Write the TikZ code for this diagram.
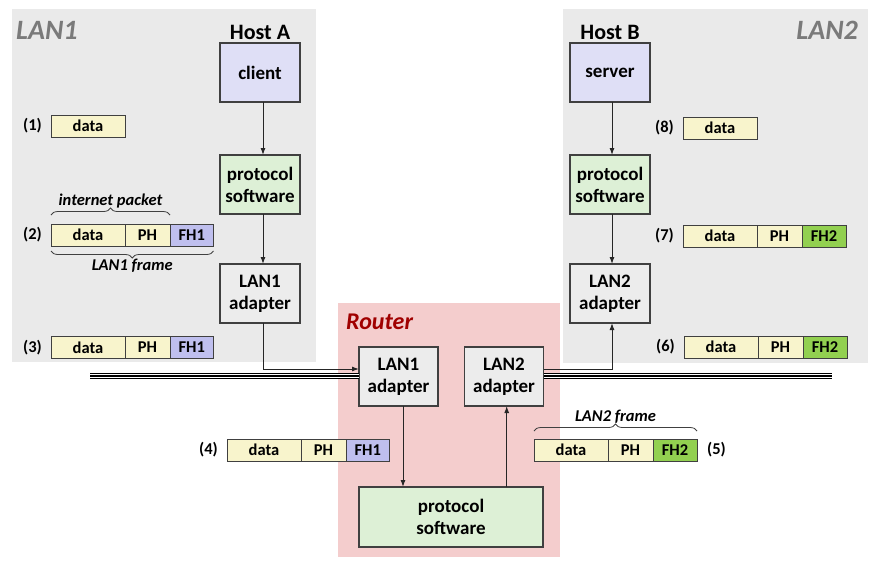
\documentclass[tikz,border=0pt]{standalone}
\usepackage{fontspec}
\setmainfont{Carlito}
\usetikzlibrary{positioning,arrows.meta,decorations.pathreplacing}

\definecolor{lanbg}{HTML}{EAEAEA}
\definecolor{routerbg}{HTML}{F4CDCD}
\definecolor{boxline}{HTML}{404040}
\definecolor{hostfill}{HTML}{DFDFF6}
\definecolor{protofill}{HTML}{DDF0D6}
\definecolor{adapterfill}{HTML}{ECECEC}
\definecolor{datafill}{HTML}{F8F4CC}
\definecolor{fhonefill}{HTML}{BFBFEE}
\definecolor{fhtwofill}{HTML}{92D050}
\definecolor{langray}{HTML}{7A7A7A}
\definecolor{routerred}{HTML}{A00000}

\newcommand{\boxfont}{\fontsize{19}{22}\selectfont\bfseries}
\newcommand{\pktfont}{\fontsize{16.5}{18}\selectfont\bfseries}

\begin{document}
\begin{tikzpicture}[x=1pt,y=-1pt,
    box/.style={draw=boxline,line width=1.1pt,inner sep=0pt,outer sep=0pt,
        minimum width=80pt,minimum height=59pt,align=center,font=\boxfont},
    host/.style={box,fill=hostfill},
    proto/.style={box,fill=protofill},
    adapter/.style={box,fill=adapterfill},
    cell/.style={draw=boxline,line width=1pt,inner sep=0pt,outer sep=0pt,
        minimum width=74pt,minimum height=22pt,font=\pktfont,fill=datafill},
    phcell/.style={cell,minimum width=45pt},
    fhone/.style={cell,minimum width=43.5pt,fill=fhonefill},
    fhtwo/.style={cell,minimum width=44pt,fill=fhtwofill},
    num/.style={inner sep=0pt,font=\pktfont},
    note/.style={inner sep=0pt,text=black,font=\pktfont\itshape},
    brace/.style={decorate,decoration={brace,amplitude=7pt},line width=0.8pt,draw=boxline},
    link/.style={line width=1pt,black!85,-{Latex[length=7pt,width=5pt]}},
    bus/.style={line width=6.7pt,black,postaction={draw,white,line width=4pt},
        postaction={draw,black,line width=1.3pt}}]

    \useasboundingbox (0,0) rectangle (890,587);

    \fill[lanbg] (12,9) rectangle (316,362);
    \fill[lanbg] (563,9) rectangle (868,363);
    \fill[routerbg] (338,303) rectangle (560,557);

    \node[anchor=base west,inner sep=0pt,text=langray,font=\fontsize{28}{30}\selectfont\bfseries\itshape] (lan1) at (16,39) {LAN1};
    \node[anchor=base east,inner sep=0pt,text=langray,font=\fontsize{28}{30}\selectfont\bfseries\itshape] (lan2) at (858,39) {LAN2};
    \node[anchor=base west,inner sep=0pt,text=routerred,font=\fontsize{24}{26}\selectfont\bfseries\itshape] (router) at (346,329) {Router};

    \node[host] (client) at (260,72.5) {client};
    \node[proto] (protoA) at (260,184.5) {protocol\\software};
    \node[adapter] (adA) at (260,293.5) {LAN1\\adapter};
    \node[inner sep=0pt,font=\fontsize{22}{24}\selectfont\bfseries,above=3pt of client] (hostA) {Host A};

    \node[host] (server) at (610,72.5) {server};
    \node[proto] (protoB) at (610,184.5) {protocol\\software};
    \node[adapter] (adB) at (610,293.5) {LAN2\\adapter};
    \node[inner sep=0pt,font=\fontsize{22}{24}\selectfont\bfseries,above=3pt of server] (hostB) {Host B};

    \node[adapter,minimum width=79pt] (adR1) at (398.5,376.5) {LAN1\\adapter};
    \node[adapter,minimum width=79pt] (adR2) at (504,376.5) {LAN2\\adapter};
    \node[proto,minimum width=184pt,minimum height=60pt] (protoR) at (451,517) {protocol\\software};

    \coordinate (busL) at (90,376);
    \coordinate (busR) at (832,376);
    \draw[bus] (busL) -- (busL -| adR1.west);
    \draw[bus] (adR2.east |- busR) -- (busR);

    \draw[link] ([xshift=3pt]client.south) -- ([xshift=3pt]protoA.north);
    \draw[link] ([xshift=3pt]protoA.south) -- ([xshift=3pt]adA.north);
    \draw[link] ([xshift=3pt]adA.south) |- ([yshift=7.5pt]adR1.west);
    \draw[link] ([xshift=4.5pt]adR1.south) -- ([xshift=4.5pt]adR1.south |- protoR.north);
    \draw[link] ([xshift=2.7pt]adR2.south |- protoR.north) -- ([xshift=2.7pt]adR2.south);
    \draw[link] ([yshift=7.5pt]adR2.east) -| ([xshift=2pt]adB.south);
    \draw[link] ([xshift=2pt]server.south) -- ([xshift=2pt]protoB.north);
    \draw[link] ([xshift=2pt]protoB.south) -- ([xshift=2pt]adB.north);

    \node[cell] (d1) at (88,126) {data};
    \node[num,left=9pt of d1] (n1) {(1)};

    \node[cell] (d2) at (88,235) {data};
    \node[phcell,right=0pt of d2] (p2) {PH};
    \node[fhone,right=0pt of p2] (f2) {FH1};
    \node[num,left=9pt of d2] (n2) {(2)};
    \draw[brace] ([yshift=9pt]d2.north west) -- ([yshift=9pt]p2.north east)
        node[note,midway,above=7pt] (inet) {internet packet};
    \draw[brace] ([yshift=-5pt]f2.south east) -- ([yshift=-5pt]d2.south west)
        node[note,midway,below=8pt] (frame1) {LAN1 frame};

    \node[cell] (d3) at (88,347.5) {data};
    \node[phcell,right=0pt of d3] (p3) {PH};
    \node[fhone,right=0pt of p3] (f3) {FH1};
    \node[num,left=9pt of d3] (n3) {(3)};

    \node[cell] (d4) at (264,450) {data};
    \node[phcell,right=0pt of d4] (p4) {PH};
    \node[fhone,right=0pt of p4] (f4) {FH1};
    \node[num,left=9pt of d4] (n4) {(4)};

    \node[cell] (d5) at (571,450) {data};
    \node[phcell,right=0pt of d5] (p5) {PH};
    \node[fhtwo,right=0pt of p5] (f5) {FH2};
    \node[num,right=10pt of f5] (n5) {(5)};
    \draw[brace] ([yshift=8pt]d5.north west) -- ([yshift=8pt]f5.north east)
        node[note,midway,above=7pt] (frame2) {LAN2 frame};

    \node[cell] (d6) at (721,347) {data};
    \node[phcell,right=0pt of d6] (p6) {PH};
    \node[fhtwo,right=0pt of p6] (f6) {FH2};
    \node[num,left=9pt of d6] (n6) {(6)};

    \node[cell] (d7) at (720,236) {data};
    \node[phcell,right=0pt of d7] (p7) {PH};
    \node[fhtwo,right=0pt of p7] (f7) {FH2};
    \node[num,left=9pt of d7] (n7) {(7)};

    \node[cell] (d8) at (720,128) {data};
    \node[num,left=9pt of d8] (n8) {(8)};
\end{tikzpicture}
\end{document}
